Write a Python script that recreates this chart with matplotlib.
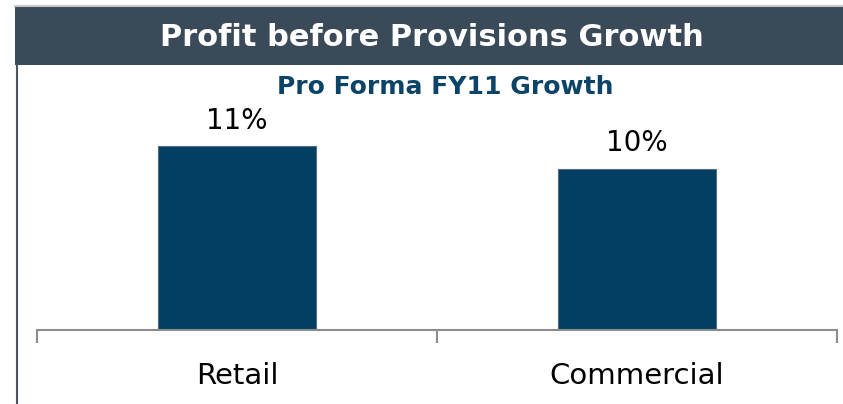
import matplotlib
matplotlib.use('Agg')
import matplotlib.pyplot as plt
from matplotlib.patches import Rectangle
from matplotlib.lines import Line2D

categories = ['Retail', 'Commercial']
growth = [11.4, 10.0]          # percent
labels = ['11%', '10%']

W, H = 843, 404
fig = plt.figure(figsize=(W / 100, H / 100), dpi=100)
fig.patch.set_facecolor('white')

# header band
fig.add_artist(Rectangle((15 / W, 1 - 65 / H), 1 - 15 / W, 58 / H,
                         transform=fig.transFigure, facecolor='#3a4a59',
                         edgecolor='none'))
fig.add_artist(Line2D([15 / W, 1], [1 - 6 / H, 1 - 6 / H], transform=fig.transFigure,
                      color='#c8c8c8', lw=1.5))
# left frame line
fig.add_artist(Line2D([16.5 / W, 16.5 / W], [0, 1 - 65 / H], transform=fig.transFigure,
                      color='#4a5560', lw=1.5))
fig.text(432 / W, 1 - 38 / H, 'Profit before Provisions Growth', color='white',
         fontsize=22, fontweight='bold', ha='center', va='center',
         family='DejaVu Sans')
fig.text(445 / W, 1 - 87 / H, 'Pro Forma FY11 Growth', color='#0b4468',
         fontsize=18, fontweight='bold', ha='center', va='center',
         family='DejaVu Sans')

ax = fig.add_axes([37 / W, 1 - 330 / H, 800 / W, 230 / H])
x = range(len(categories))
bars = ax.bar(x, growth, width=0.395, color='#033f63', edgecolor='#5a6a78', linewidth=0.8)
for b, lab in zip(bars, labels):
    ax.text(b.get_x() + b.get_width() / 2, b.get_height() + 0.7, lab,
            ha='center', va='bottom', fontsize=20, color='black')

ax.set_xlim(-0.5, 1.5)
ax.set_ylim(0, 14.25)
for s in ['top', 'right', 'left']:
    ax.spines[s].set_visible(False)
ax.spines['bottom'].set_color('#8c8c8c')
ax.spines['bottom'].set_linewidth(1.5)
ax.set_yticks([])
ax.set_xticks([-0.5, 0.5, 1.5])
ax.set_xticklabels([])
ax.tick_params(axis='x', length=9, width=1.5, color='#8c8c8c')
for xi, c in zip(x, categories):
    ax.text(xi, -2.0, c, ha='center', va='top', fontsize=21, color='black')

fig.savefig('out.png', dpi=100)
